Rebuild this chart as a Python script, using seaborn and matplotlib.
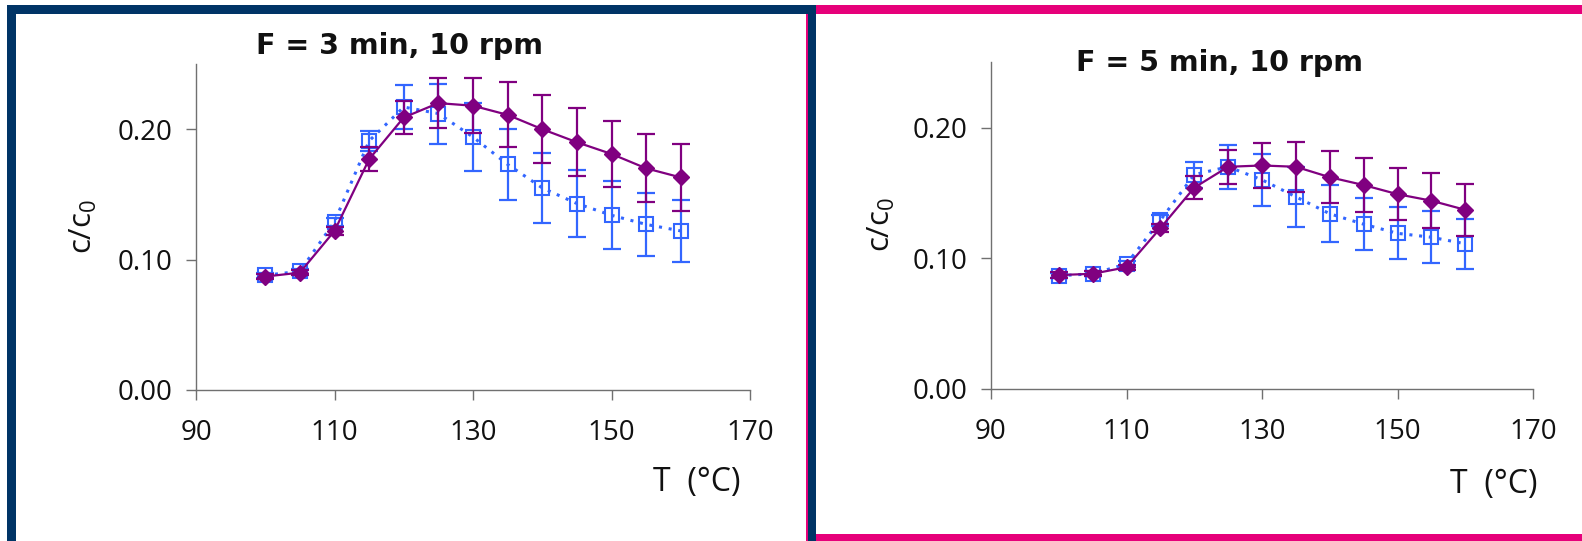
import matplotlib
matplotlib.use("Agg")
import matplotlib.pyplot as plt
from matplotlib.patches import Rectangle
import seaborn as sns
import pandas as pd

# ---------------- data ----------------
temperature = [100, 105, 110, 115, 120, 125, 130, 135, 140, 145, 150, 155, 160]

p3_purple = [0.087, 0.090, 0.122, 0.177, 0.209, 0.220, 0.218, 0.211, 0.200, 0.190, 0.181, 0.170, 0.163]
p3_purple_err = [0.002, 0.002, 0.003, 0.009, 0.013, 0.019, 0.021, 0.025, 0.026, 0.026, 0.025, 0.026, 0.026]
p3_blue = [0.088, 0.091, 0.129, 0.191, 0.217, 0.212, 0.194, 0.173, 0.155, 0.143, 0.134, 0.127, 0.122]
p3_blue_err = [0.002, 0.002, 0.003, 0.008, 0.017, 0.023, 0.026, 0.027, 0.027, 0.026, 0.026, 0.024, 0.024]

p5_purple = [0.087, 0.088, 0.093, 0.123, 0.154, 0.170, 0.171, 0.170, 0.162, 0.156, 0.149, 0.144, 0.137]
p5_purple_err = [0.002, 0.002, 0.002, 0.003, 0.009, 0.013, 0.017, 0.019, 0.020, 0.021, 0.020, 0.021, 0.020]
p5_blue = [0.0865, 0.088, 0.0955, 0.129, 0.164, 0.170, 0.160, 0.147, 0.134, 0.126, 0.119, 0.116, 0.111]
p5_blue_err = [0.002, 0.002, 0.002, 0.004, 0.010, 0.017, 0.020, 0.023, 0.022, 0.020, 0.020, 0.020, 0.019]

titles = ["F = 3 min, 10 rpm", "F = 5 min, 10 rpm"]
x_ticks = [90, 110, 130, 150, 170]
y_ticks = [0.00, 0.10, 0.20]
y_tick_labels = ["0.00", "0.10", "0.20"]

PURPLE = "#800080"
BLUE = "#3366FF"
AXIS_GREY = "#707070"
NAVY = "#003466"
PINK = "#E6007A"

# ---------------- style ----------------
sns.set_style("white")
plt.rcParams["font.family"] = ["Open Sans", "DejaVu Sans"]
plt.rcParams["mathtext.fontset"] = "custom"
plt.rcParams["mathtext.rm"] = "Open Sans"

W, H = 1582, 541
fig = plt.figure(figsize=(W / 100, H / 100), dpi=100)
fig.patch.set_facecolor("white")


def px_rect(x, y, w, h, color):
    fig.patches.append(Rectangle((x / W, 1 - (y + h) / H), w / W, h / H,
                                 transform=fig.transFigure, facecolor=color,
                                 edgecolor="none", zorder=0))


# pink frame (right panel)
px_rect(806, 5, 9, 545, PINK)        # left edge
px_rect(806, 5, 800, 9, PINK)        # top
px_rect(806, 534, 800, 9, PINK)      # bottom
# navy frame (left panel)
px_rect(7, 5, 9, 545, NAVY)          # left edge
px_rect(7, 5, 809, 9, NAVY)          # top
px_rect(808, 5, 8, 545, NAVY)        # right edge

# axes positions (pixels: left, top, right, bottom)
boxes = [(196, 64, 750, 390), (991, 62.4, 1533, 388.6)]
series = [
    (p3_purple, p3_purple_err, p3_blue, p3_blue_err),
    (p5_purple, p5_purple_err, p5_blue, p5_blue_err),
]
title_pos = [(400, 46), (1220, 63)]
ylabel_pos = [(83, 226), (881, 224)]
xlabel_pos = [(697, 483), (1494, 484)]

for i, (box, data) in enumerate(zip(boxes, series)):
    l, t, r, b = box
    ax = fig.add_axes([l / W, 1 - b / H, (r - l) / W, (b - t) / H])
    ax.set_facecolor("none")
    purple, purple_err, blue, blue_err = data
    df = pd.DataFrame({"T": temperature, "purple": purple, "blue": blue})

    # blue series (dotted, hollow squares)
    ax.errorbar(temperature, blue, yerr=blue_err, fmt="none", ecolor=BLUE,
                elinewidth=1.6, capsize=6.2, capthick=1.6, zorder=2)
    sns.lineplot(data=df, x="T", y="blue", ax=ax, color=BLUE, lw=2.2,
                 linestyle=(0, (1.0, 2.2)), marker="s", markersize=10,
                 markerfacecolor="none", markeredgecolor=BLUE,
                 markeredgewidth=1.5, zorder=3)
    # purple series (solid, filled diamonds)
    ax.errorbar(temperature, purple, yerr=purple_err, fmt="none", ecolor=PURPLE,
                elinewidth=1.6, capsize=6.2, capthick=1.6, zorder=4)
    sns.lineplot(data=df, x="T", y="purple", ax=ax, color=PURPLE, lw=1.6,
                 marker="D", markersize=8.5, markerfacecolor=PURPLE,
                 markeredgecolor=PURPLE, markeredgewidth=1, zorder=5)

    ax.set_xlim(90, 170)
    ax.set_ylim(0, 0.25)
    ax.set_xticks(x_ticks)
    ax.set_xticklabels([str(v) for v in x_ticks])
    ax.set_yticks(y_ticks)
    ax.set_yticklabels(y_tick_labels)
    ax.set_xlabel("")
    ax.set_ylabel("")

    for side in ["top", "right"]:
        ax.spines[side].set_visible(False)
    for side in ["left", "bottom"]:
        ax.spines[side].set_color(AXIS_GREY)
        ax.spines[side].set_linewidth(1.0)
    ax.tick_params(axis="both", which="major", direction="out", length=7,
                   width=1.0, color=AXIS_GREY, labelsize=20,
                   labelcolor="#111111", left=True, bottom=True)
    ax.tick_params(axis="x", pad=14)
    ax.tick_params(axis="y", pad=10)

    tx, ty = title_pos[i]
    fig.text(tx / W, 1 - ty / H, titles[i], ha="center", va="center",
             fontsize=20.5, fontweight="bold", family=["DejaVu Sans"],
             color="#111111")
    yx, yy = ylabel_pos[i]
    fig.text(yx / W, 1 - yy / H, r"c/c$_{\mathregular{0}}$", rotation=90,
             ha="center", va="center", fontsize=22.5, color="#111111")
    xx, xy = xlabel_pos[i]
    fig.text(xx / W, 1 - xy / H, "T  (°C)", ha="center", va="center",
             fontsize=23, color="#111111")

fig.savefig("out.png", dpi=100, facecolor="white")
